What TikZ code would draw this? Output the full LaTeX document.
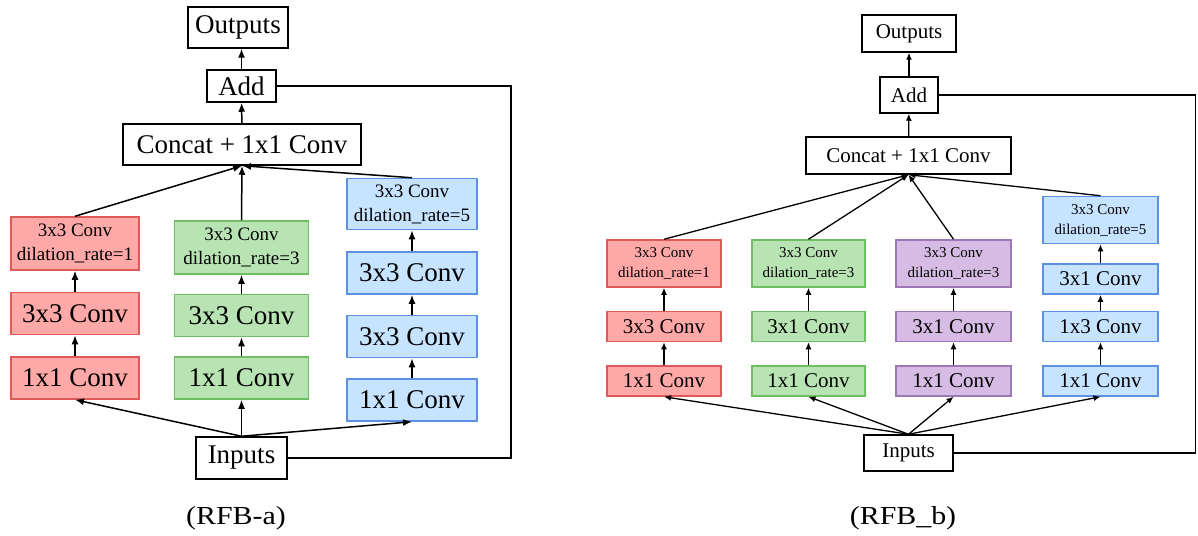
\documentclass[tikz,border=0pt]{standalone}
\usepackage{fontspec}
\setmainfont{Liberation Serif}
\newfontfamily\figfont{Liberation Serif}
\usetikzlibrary{arrows.meta, positioning}
\definecolor{convRed}{HTML}{FFA8A8}
\definecolor{convRedLine}{HTML}{DE5A58}
\definecolor{convGreen}{HTML}{B8E3B2}
\definecolor{convGreenLine}{HTML}{6EBF62}
\definecolor{convPurple}{HTML}{D6BCE4}
\definecolor{convPurpleLine}{HTML}{9E78B6}
\definecolor{convBlue}{HTML}{C6E3FF}
\definecolor{convBlueLine}{HTML}{5C90E2}

\begin{document}
\begin{tikzpicture}[x=1pt, y=-1pt,
  blk/.style={draw, line width=1.5pt, inner sep=0pt, align=center},
  rbox/.style={fill=convRed, draw=convRedLine},
  gbox/.style={fill=convGreen, draw=convGreenLine},
  pbox/.style={fill=convPurple, draw=convPurpleLine},
  bbox/.style={fill=convBlue, draw=convBlueLine},
  convA/.style={blk, minimum height=42pt, font=\figfont\fontsize{27}{30}\selectfont},
  dilA/.style={blk, minimum height=53pt, font=\figfont\fontsize{19}{24}\selectfont},
  convB/.style={blk, minimum height=30pt, font=\figfont\fontsize{21}{24}\selectfont},
  dilB/.style={blk, minimum height=47pt, font=\figfont\fontsize{15}{20}\selectfont},
  arrA/.style={line width=1.5pt, -{Latex[length=9pt,width=7pt]}},
  arrB/.style={line width=1.3pt, -{Latex[length=7pt,width=6pt]}},
  capText/.style={font=\figfont\fontsize{26}{28}\selectfont},
  node distance=21pt
]
  \useasboundingbox[fill=white] (0,0) rectangle (1198,535);

  % (RFB-a)
  \node[convA, minimum width=100pt, minimum height=41pt] (outA) at (238,27.5) {Outputs};
  \node[convA, minimum width=69pt, minimum height=32pt] (addA) at (241.5,86) {Add};
  \node[convA, minimum width=238pt, minimum height=41pt] (catA) at (242,144.5) {Concat + 1x1 Conv};
  \node[convA, minimum width=91pt] (inA) at (241.5,458) {Inputs};

  \node[convA, rbox, minimum width=128pt] (rA1) at (75,378) {1x1 Conv};
  \node[convA, rbox, minimum width=128pt, above=of rA1] (rA2) {3x3 Conv};
  \node[dilA, rbox, minimum width=128pt, above=of rA2] (rA3) {3x3 Conv\\dilation\_rate=1};

  \node[convA, gbox, minimum width=134pt] (gA1) at (241.5,378) {1x1 Conv};
  \node[convA, gbox, minimum width=134pt, above=19pt of gA1] (gA2) {3x3 Conv};
  \node[dilA, gbox, minimum width=134pt, above=19pt of gA2] (gA3) {3x3 Conv\\dilation\_rate=3};

  \node[convA, bbox, minimum width=130pt] (bA1) at (412,400) {1x1 Conv};
  \node[convA, bbox, minimum width=130pt, above=20pt of bA1] (bA2) {3x3 Conv};
  \node[convA, bbox, minimum width=130pt, above=20pt of bA2] (bA3) {3x3 Conv};
  \node[dilA, bbox, minimum width=130pt, minimum height=51pt, above=of bA3] (bA4) {3x3 Conv\\dilation\_rate=5};

  \coordinate (fbA) at (511,0);

  \foreach \a/\b in {rA1/rA2, rA2/rA3, gA1/gA2, gA2/gA3, bA1/bA2, bA2/bA3, bA3/bA4}
    \draw[arrA] (\a) -- (\b);
  \foreach \n in {rA1, gA1, bA1}
    \draw[arrA] (inA.north) -- (\n.south);
  \foreach \n in {rA3, gA3, bA4}
    \draw[arrA] (\n.north) -- (catA.south);
  \draw[arrA] (catA) -- (addA);
  \draw[arrA] (addA.north) -- (addA.north |- outA.south);
  \draw[line width=1.5pt] (inA.east) -- (inA.east -| fbA) |- (addA.east);

  % (RFB_b)
  \node[convB, minimum width=94pt, minimum height=37pt] (outB) at (909,33.5) {Outputs};
  \node[convB, minimum width=58pt, minimum height=36pt] (addB) at (909,95) {Add};
  \node[convB, minimum width=205pt, minimum height=37pt] (catB) at (908.5,155.5) {Concat + 1x1 Conv};
  \node[convB, minimum width=89pt, minimum height=36pt] (inB) at (908.5,453) {Inputs};

  \begin{scope}[node distance=23pt]
    \node[convB, rbox, minimum width=114pt] (rB1) at (664,381) {1x1 Conv};
    \node[convB, rbox, minimum width=114pt, above=of rB1] (rB2) {3x3 Conv};
    \node[dilB, rbox, minimum width=114pt, above=of rB2] (rB3) {3x3 Conv\\dilation\_rate=1};

    \node[convB, gbox, minimum width=113pt] (gB1) at (808.5,381) {1x1 Conv};
    \node[convB, gbox, minimum width=113pt, above=of gB1] (gB2) {3x1 Conv};
    \node[dilB, gbox, minimum width=113pt, above=of gB2] (gB3) {3x3 Conv\\dilation\_rate=3};

    \node[convB, pbox, minimum width=115pt] (pB1) at (953.5,381) {1x1 Conv};
    \node[convB, pbox, minimum width=115pt, above=of pB1] (pB2) {3x1 Conv};
    \node[dilB, pbox, minimum width=115pt, above=of pB2] (pB3) {3x3 Conv\\dilation\_rate=3};

    \node[convB, bbox, minimum width=115pt] (bB1) at (1100.5,381) {1x1 Conv};
    \node[convB, bbox, minimum width=115pt, above=of bB1] (bB2) {1x3 Conv};
    \node[convB, bbox, minimum width=115pt, above=16pt of bB2] (bB3) {3x1 Conv};
    \node[dilB, bbox, minimum width=115pt, above=19pt of bB3] (bB4) {3x3 Conv\\dilation\_rate=5};
  \end{scope}

  \coordinate (fbB) at (1195.5,0);

  \foreach \a/\b in {rB1/rB2, rB2/rB3, gB1/gB2, gB2/gB3, pB1/pB2, pB2/pB3, bB1/bB2, bB2/bB3, bB3/bB4}
    \draw[arrB] (\a) -- (\b);
  \foreach \n in {rB1, gB1, pB1, bB1}
    \draw[arrB] (inB.north) -- (\n.south);
  \foreach \n in {rB3, gB3, pB3, bB4}
    \draw[arrB] (\n.north) -- (catB.south);
  \draw[arrB] (catB) -- (addB);
  \draw[arrB] (addB) -- (outB);
  \draw[line width=1.3pt] (inB.east) -- (inB.east -| fbB) |- (addB.east);

  % captions
  \node[capText] (capA) at (236,518) {\scalebox{1.15}[1]{(RFB-a)}};
  \node[capText] (capB) at (903,518) {\scalebox{1.15}[1]{(RFB\_b)}};
\end{tikzpicture}
\end{document}
